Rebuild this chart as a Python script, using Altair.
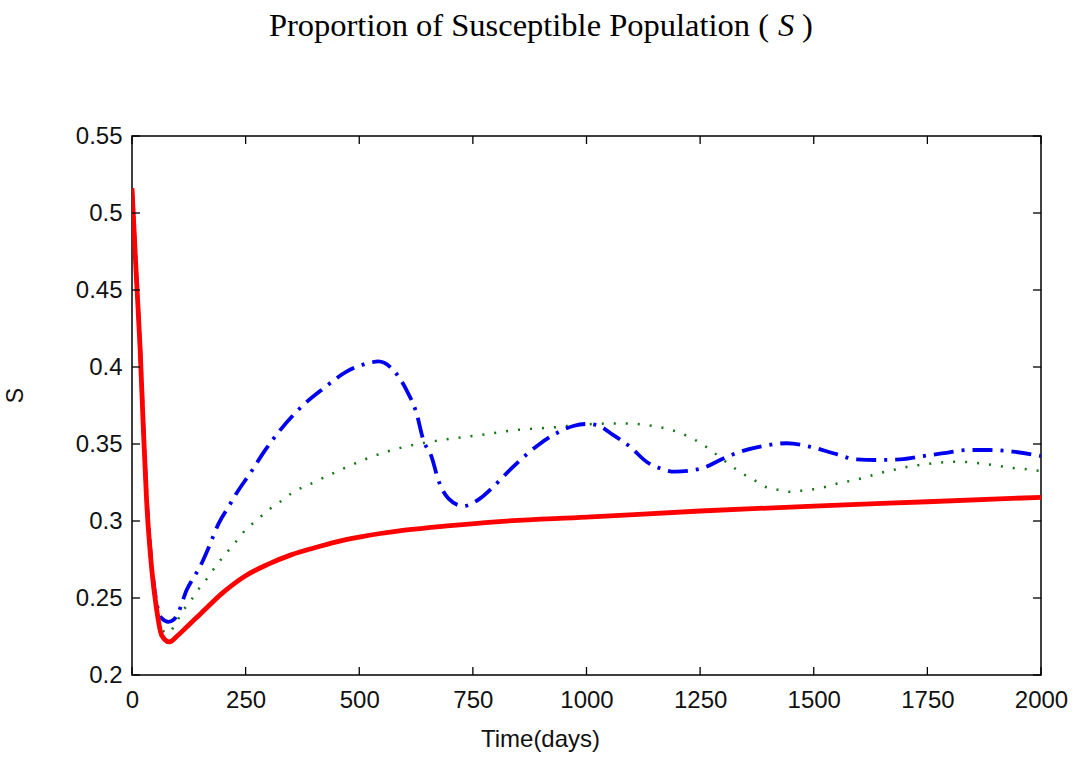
import altair as alt
import pandas as pd

# ---------------- data ----------------
red_t = [0, 9, 18, 25, 32, 43, 54, 65, 82, 100, 125, 150, 200, 250, 300, 350, 400, 450,
         500, 600, 700, 800, 1000, 1250, 1500, 1750, 2000]
red_s = [0.516, 0.462, 0.411, 0.360, 0.314, 0.270, 0.243, 0.226, 0.2215, 0.2255, 0.2325,
         0.2395, 0.2535, 0.2645, 0.272, 0.278, 0.2825, 0.2865, 0.2895, 0.294, 0.297, 0.2995,
         0.3025, 0.3065, 0.3097, 0.3125, 0.3154]

blue_t = [0, 9, 18, 25, 32, 43, 54, 65, 80, 92, 104, 120, 135, 150, 168, 190, 216, 230, 260,
          293, 326, 373, 421, 472, 524, 542, 575, 604, 626, 641, 659, 674, 696, 729, 766, 795,
          839, 894, 934, 971, 1000, 1022, 1059, 1096, 1132, 1162, 1195, 1228, 1261, 1294, 1338,
          1389, 1440, 1492, 1543, 1594, 1638, 1690, 1741, 1792, 1836, 1888, 1939, 1987, 2000]
blue_s = [0.516, 0.463, 0.412, 0.362, 0.317, 0.273, 0.247, 0.237, 0.2345, 0.236, 0.242, 0.255,
          0.263, 0.2705, 0.2823, 0.298, 0.311, 0.318, 0.331, 0.346, 0.359, 0.3742, 0.386, 0.397,
          0.4028, 0.4036, 0.398, 0.385, 0.370, 0.3526, 0.3418, 0.3266, 0.3147, 0.3097, 0.3147,
          0.3223, 0.3353, 0.3494, 0.357, 0.3617, 0.363, 0.3623, 0.3558, 0.3482, 0.3385, 0.3342,
          0.332, 0.3327, 0.3349, 0.3396, 0.345, 0.3487, 0.3505, 0.3482, 0.344, 0.340, 0.3396,
          0.340, 0.3422, 0.3443, 0.3461, 0.3461, 0.345, 0.3429, 0.3422]

green_t = [0, 9, 18, 25, 32, 43, 54, 65, 80, 95, 113, 131, 148, 168, 186, 207, 227, 246, 273,
           300, 326, 351, 403, 458, 509, 560, 619, 692, 766, 846, 927, 1000, 1081, 1132, 1187,
           1239, 1268, 1294, 1319, 1345, 1371, 1396, 1426, 1448, 1473, 1499, 1528, 1554, 1580,
           1605, 1631, 1657, 1682, 1708, 1734, 1763, 1811, 1866, 1917, 1943, 1968, 2000]
green_s = [0.516, 0.463, 0.412, 0.361, 0.315, 0.271, 0.244, 0.230, 0.227, 0.233, 0.242, 0.249,
           0.2563, 0.2638, 0.2714, 0.279, 0.2859, 0.293, 0.3002, 0.3071, 0.3125, 0.318, 0.3255,
           0.3331, 0.3396, 0.345, 0.3494, 0.353, 0.3558, 0.3591, 0.3608, 0.3628, 0.3634, 0.3623,
           0.3591, 0.3526, 0.3472, 0.3413, 0.3357, 0.3305, 0.3262, 0.3219, 0.3201, 0.319, 0.3197,
           0.3206, 0.3223, 0.3245, 0.326, 0.3277, 0.3299, 0.332, 0.3336, 0.3353, 0.3364, 0.3375,
           0.3385, 0.3375, 0.3353, 0.3342, 0.3336, 0.3325]

x_ticks = [0, 250, 500, 750, 1000, 1250, 1500, 1750, 2000]
y_ticks = [0.2, 0.25, 0.3, 0.35, 0.4, 0.45, 0.5, 0.55]

title_main = "Proportion of Susceptible Population ("
title_sym = "S"
title_end = ")"
x_title = "Time(days)"
y_title = "S"

# ---------------- layout ----------------
W, H = 909, 539
LABEL_FONT = "Liberation Sans, Arial, sans-serif"
TITLE_FONT = "Liberation Serif, Times New Roman, serif"

xs = alt.Scale(domain=[0, 2000], nice=False, zero=False)
ys = alt.Scale(domain=[0.2, 0.55], nice=False, zero=False)

x_axis = alt.Axis(values=x_ticks, format="d", title=x_title, ticks=False, domain=False,
                  grid=False, labelFont=LABEL_FONT, labelFontSize=24, labelColor="#111",
                  labelPadding=13, labelFlush=False, labelOverlap=False,
                  titleFont=LABEL_FONT, titleFontSize=24, titleFontWeight="normal",
                  titleColor="#111", titleX=408, titleY=64, titleBaseline="middle",
                  titleAnchor="start", titleAlign="center")
y_axis = alt.Axis(values=y_ticks, format=".2~f", title=y_title, ticks=False, domain=False,
                  grid=False, labelFont=LABEL_FONT, labelFontSize=24, labelColor="#111",
                  labelPadding=10, labelFlush=False, labelOverlap=False,
                  titleFont=LABEL_FONT, titleFontSize=23, titleFontWeight="normal",
                  titleColor="#111", titleAngle=270, titleX=-117, titleY=259,
                  titleAlign="center", titleBaseline="middle", titleAnchor="start")


def frame(t, s):
    return pd.DataFrame({"t": t, "s": s})


def series(df, color, width, dash=None):
    kw = dict(color=color, strokeWidth=width, interpolate="monotone", clip=True)
    if dash:
        kw["strokeDash"] = dash
    return alt.Chart(df).mark_line(**kw).encode(
        x=alt.X("t:Q", scale=xs, axis=x_axis),
        y=alt.Y("s:Q", scale=ys, axis=y_axis),
    )


green = series(frame(green_t, green_s), "#127512", 2.5, [2, 10])
blue = series(frame(blue_t, blue_s), "#0000f0", 3.8, [20, 8, 3, 8])
red = series(frame(red_t, red_s), "#ff0000", 4.8)

xt = pd.DataFrame({"t": x_ticks})
yt = pd.DataFrame({"s": y_ticks})
TL = 8
tick_style = dict(color="#000", strokeWidth=1.3)
ticks_bottom = alt.Chart(xt).mark_rule(**tick_style).encode(
    x=alt.X("t:Q", scale=xs, axis=x_axis), y=alt.value(H), y2=alt.value(H - TL))
ticks_top = alt.Chart(xt).mark_rule(**tick_style).encode(
    x=alt.X("t:Q", scale=xs, axis=x_axis), y=alt.value(0), y2=alt.value(TL))
ticks_left = alt.Chart(yt).mark_rule(**tick_style).encode(
    y=alt.Y("s:Q", scale=ys, axis=y_axis), x=alt.value(0), x2=alt.value(TL))
ticks_right = alt.Chart(yt).mark_rule(**tick_style).encode(
    y=alt.Y("s:Q", scale=ys, axis=y_axis), x=alt.value(W), x2=alt.value(W - TL))

one = pd.DataFrame({"a": [0]})
T_Y = -100
TFS = 32.5
t1 = alt.Chart(one).mark_text(text=title_main, font=TITLE_FONT, fontSize=TFS, align="right",
                              baseline="alphabetic", color="#000").encode(
    x=alt.value(637), y=alt.value(T_Y))
t2 = alt.Chart(one).mark_text(text=title_sym, font=TITLE_FONT, fontSize=TFS, fontStyle="italic",
                              align="left", baseline="alphabetic", color="#000").encode(
    x=alt.value(646), y=alt.value(T_Y))
t3 = alt.Chart(one).mark_text(text=title_end, font=TITLE_FONT, fontSize=TFS, align="left",
                              baseline="alphabetic", color="#000").encode(
    x=alt.value(670), y=alt.value(T_Y))

chart = alt.layer(
    green, blue, red, ticks_bottom, ticks_top, ticks_left, ticks_right, t1, t2, t3
).properties(
    width=W, height=H,
    padding={"left": 132, "top": 136, "right": 41, "bottom": 86},
    autosize=alt.AutoSizeParams(type="none"),
    background="white",
).configure_view(stroke="#000", strokeWidth=1.5)

chart.save("out.html", embed_options={"renderer": "svg", "actions": False})
